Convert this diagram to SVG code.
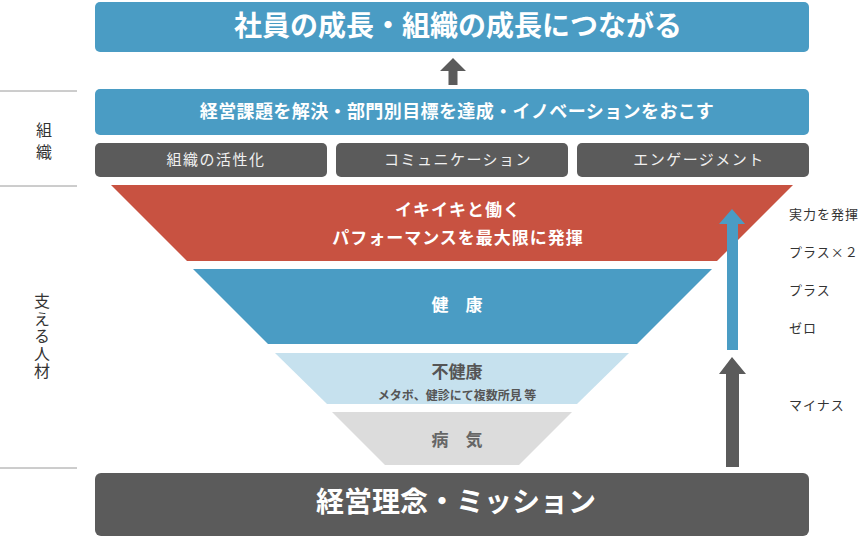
<svg xmlns="http://www.w3.org/2000/svg" width="861" height="537" viewBox="0 0 861 537">
<style>
text{font-family:"Noto Sans CJK JP","Noto Sans",sans-serif;text-anchor:middle}
.wb{fill:#ffffff;font-weight:700}
.gt{fill:#f0f0f0;font-size:15px;letter-spacing:1.5px}
.side{fill:#333333;font-size:16px}
.vside{fill:#333333;font-size:16px;writing-mode:vertical-rl;text-anchor:start;letter-spacing:1.5px}
.rl{fill:#333333;font-size:13px;text-anchor:start;letter-spacing:1px}
.blue{fill:#4a9cc4}
.dark{fill:#5b5b5b}
.rule{stroke:#9a9a9a;stroke-width:1}
</style>
<rect width="861" height="537" fill="#ffffff"/>
<g id="side-rules">
<line class="rule" x1="0" y1="91" x2="77" y2="91"/>
<line class="rule" x1="0" y1="186" x2="77" y2="186"/>
<line class="rule" x1="0" y1="468" x2="77" y2="468"/>
</g>
<g id="label-soshiki">
<text class="side" x="44" y="136">組</text>
<text class="side" x="44" y="158">織</text>
</g>
<g id="label-sasaeru">
<text class="vside" x="42" y="293">支える人材</text>
</g>
<g id="top-goal">
<rect class="blue" x="95" y="2" width="714" height="50" rx="5"/>
<text class="wb" x="458" y="36" font-size="28">社員の成長・組織の成長につながる</text>
</g>
<g id="org-goal">
<rect class="blue" x="95" y="89" width="714" height="46" rx="5"/>
<text class="wb" x="457" y="118" font-size="18" letter-spacing="0.4">経営課題を解決・部門別目標を達成・イノベーションをおこす</text>
</g>
<g id="org-1">
<rect class="dark" x="95" y="143" width="232" height="34" rx="5"/>
<text class="gt" x="216" y="165">組織の活性化</text>
</g>
<g id="org-2">
<rect class="dark" x="336" y="143" width="232" height="34" rx="5"/>
<text class="gt" x="458" y="165">コミュニケーション</text>
</g>
<g id="org-3">
<rect class="dark" x="577" y="143" width="232" height="34" rx="5"/>
<text class="gt" x="699" y="165">エンゲージメント</text>
</g>
<g id="level-performance">
<polygon points="111,185 793,185 717,261 187,261" fill="#c85241"/>
<text class="wb" x="458" y="216" font-size="17" letter-spacing="1">イキイキと働く</text>
<text class="wb" x="458" y="244" font-size="17" letter-spacing="1">パフォーマンスを最大限に発揮</text>
</g>
<g id="level-health">
<polygon points="193,269 712,269 637,344 268,344" fill="#4a9cc4"/>
<text class="wb" x="457" y="311" font-size="17">健　康</text>
</g>
<g id="level-unhealthy">
<polygon points="275,353 629,353 577,404 327,404" fill="#c6e1ee"/>
<text x="457" y="378" font-size="17" font-weight="700" fill="#555555">不健康</text>
<text x="457" y="400" font-size="12" font-weight="700" fill="#555555">メタボ、健診にて複数所見 等</text>
</g>
<g id="level-illness">
<polygon points="332,412 572,412 519,465 385,465" fill="#dcdcdc"/>
<text x="457" y="446" font-size="17" font-weight="700" fill="#666666">病　気</text>
</g>
<g id="mission">
<rect class="dark" x="95" y="473" width="714" height="63" rx="6"/>
<text class="wb" x="456" y="512" font-size="28">経営理念・ミッション</text>
</g>
<g id="scale-labels">
<text class="rl" x="789" y="219">実力を発揮</text>
<text class="rl" x="789" y="257">プラス×２</text>
<text class="rl" x="789" y="295">プラス</text>
<text class="rl" x="789" y="333">ゼロ</text>
<text class="rl" x="789" y="410">マイナス</text>
</g>
<g id="connectors">
<polygon points="453,58 466,71 457.5,71 457.5,85 448.5,85 448.5,71 440,71" fill="#5b5b5b"/>
<polygon points="732,209 745,224 738,224 738,350 727,350 727,224 719,224" fill="#4a9cc4"/>
<polygon points="732,357 746,374 739,374 739,467 726,467 726,374 719,374" fill="#5b5b5b"/>
</g>
</svg>
